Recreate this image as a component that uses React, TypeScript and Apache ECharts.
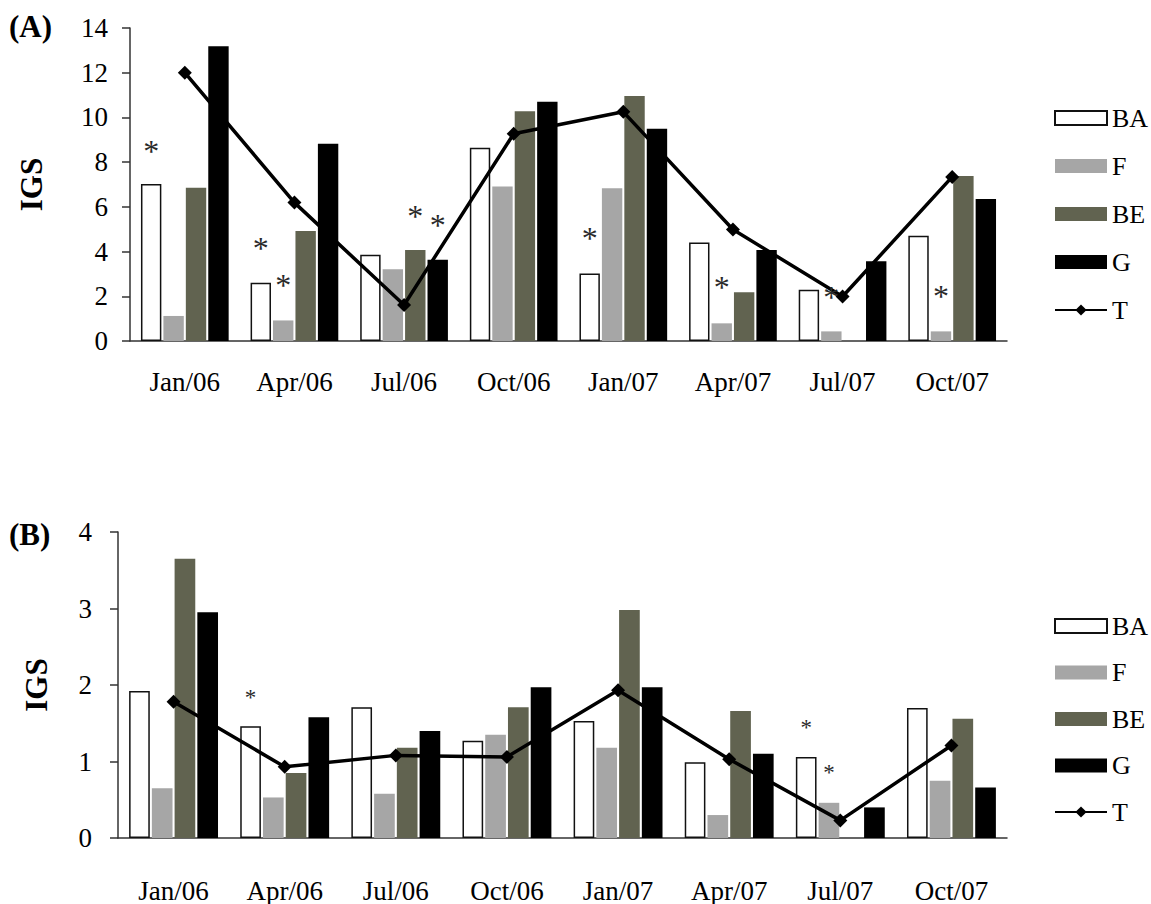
import React, { useEffect, useRef } from "react";
import * as echarts from "echarts";

const categories = ["Jan/06", "Apr/06", "Jul/06", "Oct/06", "Jan/07", "Apr/07", "Jul/07", "Oct/07"];

// Panel A
const baA = [7.02, 2.6, 3.86, 8.64, 3.02, 4.41, 2.29, 4.71];
const fA = [1.12, 0.92, 3.21, 6.91, 6.83, 0.79, 0.43, 0.43];
const beA = [6.85, 4.92, 4.07, 10.28, 10.96, 2.18, null, 7.38];
const gA = [13.18, 8.82, 3.63, 10.7, 9.49, 4.07, 3.57, 6.35];
const tA = [12.0, 6.19, 1.61, 9.27, 10.25, 4.99, 1.99, 7.34];
// asterisks: [category index, bar index, value]
const starsA = [
  [0, 0, 8.5], [1, 0, 4.15], [1, 1, 2.5], [2, 2, 5.6], [2, 3, 5.2],
  [4, 0, 4.6], [5, 1, 2.4], [6, 1, 1.95], [7, 1, 2.0],
];

// Panel B
const baB = [1.92, 1.46, 1.71, 1.27, 1.53, 0.99, 1.06, 1.7];
const fB = [0.65, 0.53, 0.58, 1.35, 1.18, 0.3, 0.46, 0.75];
const beB = [3.65, 0.85, 1.18, 1.71, 2.98, 1.66, null, 1.56];
const gB = [2.95, 1.58, 1.4, 1.97, 1.97, 1.1, 0.4, 0.66];
const tB = [1.78, 0.93, 1.08, 1.06, 1.93, 1.03, 0.23, 1.21];
const starsB = [[1, 0, 1.84], [6, 0, 1.44], [6, 1, 0.86]];

const yTicksA = { min: 0, max: 14, interval: 2 };
const yTicksB = { min: 0, max: 4, interval: 1 };

const FONT = "'Liberation Serif', 'Times New Roman', serif";
const W = 1151;
const H = 904;

const gridA = { left: 130, right: 144, top: 28, bottom: 563 };
const gridB = { left: 118, right: 144, top: 532, bottom: 56 };

const CAT_GAP = 0.2;
const BAR_GAP = 0.1;
const STAR_COLOR = "#2a2a2a";

function slotOffset(gridW: number, barIdx: number) {
  const band = gridW / categories.length;
  const bw = (band * (1 - CAT_GAP)) / (4 + 3 * BAR_GAP);
  return (barIdx - 1.5) * bw * (1 + BAR_GAP);
}

const colors = {
  BA: "#ffffff",
  F: "#a6a6a6",
  BE: "#616350",
  G: "#000000",
};

function panelSeries(idx: number, data: any[], stars: number[][], gridW: number, starSize: number) {
  const common = { xAxisIndex: idx, yAxisIndex: idx };
  const bars = [
    { name: "BA", data: data[0], itemStyle: { color: colors.BA, borderColor: "#111", borderWidth: 1.5 } },
    { name: "F", data: data[1], itemStyle: { color: colors.F } },
    { name: "BE", data: data[2], itemStyle: { color: colors.BE } },
    { name: "G", data: data[3], itemStyle: { color: colors.G } },
  ].map((s) => ({
    ...s,
    ...common,
    type: "bar",
    barCategoryGap: CAT_GAP * 100 + "%",
    barGap: BAR_GAP * 100 + "%",
  }));
  const line = {
    ...common,
    name: "T",
    type: "line",
    data: data[4],
    symbol: "diamond",
    symbolSize: 14,
    itemStyle: { color: "#000" },
    lineStyle: { color: "#000", width: 3.5 },
    z: 5,
  };
  const starSeries = stars.map((s, i) => ({
    ...common,
    type: "scatter",
    name: "star" + idx + "_" + i,
    data: [[s[0], s[2]]],
    symbolSize: 0,
    color: STAR_COLOR,
    itemStyle: { color: STAR_COLOR, opacity: 1 },
    silent: true,
    z: 6,
    label: {
      show: true,
      formatter: "*",
      position: "inside",
      offset: [slotOffset(gridW, s[1]), 0],
      color: STAR_COLOR,
      textBorderWidth: 0,
      fontSize: starSize,
      fontFamily: FONT,
    },
  }));
  return [...bars, line, ...starSeries];
}

function legendFor(top: number, gap: number) {
  return {
    orient: "vertical",
    left: 1049,
    top,
    itemWidth: 52,
    itemHeight: 14,
    itemGap: gap,
    textStyle: { fontFamily: FONT, fontSize: 26, color: "#000" },
    data: [
      { name: "BA", icon: "rect" },
      { name: "F", icon: "rect" },
      { name: "BE", icon: "rect" },
      { name: "G", icon: "rect" },
      { name: "T" },
    ],
  };
}

function xAxisFor(idx: number, margin: number) {
  return {
    type: "category",
    gridIndex: idx,
    data: categories,
    axisTick: { show: false },
    axisLine: { lineStyle: { color: "#333", width: 1.5 } },
    axisLabel: { color: "#000", fontFamily: FONT, fontSize: 27, margin, interval: 0 },
  };
}

function yAxisFor(idx: number, ticks: any, margin: number, nameGap: number) {
  return {
    type: "value",
    gridIndex: idx,
    ...ticks,
    name: "IGS",
    nameLocation: "middle",
    nameRotate: 90,
    nameGap,
    nameTextStyle: { fontFamily: FONT, fontSize: 31, fontWeight: "bold", color: "#000" },
    axisLine: { show: true, lineStyle: { color: "#333", width: 1.5 } },
    axisTick: { show: true, inside: false, length: 8, lineStyle: { color: "#333", width: 1.5 } },
    splitLine: { show: false },
    axisLabel: { color: "#000", fontFamily: FONT, fontSize: 27, margin },
  };
}

export default function App() {
  const ref = useRef<HTMLDivElement>(null);
  useEffect(() => {
    if (!ref.current) return;
    const chart = echarts.init(ref.current, undefined, { renderer: "svg" });
    const gwA = W - gridA.left - gridA.right;
    const gwB = W - gridB.left - gridB.right;
    chart.setOption({
      animation: false,
      backgroundColor: "#fff",
      grid: [
        { ...gridA, containLabel: false },
        { ...gridB, containLabel: false },
      ],
      xAxis: [xAxisFor(0, 27), xAxisFor(1, 39)],
      yAxis: [yAxisFor(0, yTicksA, 22, 83), yAxisFor(1, yTicksB, 26, 66)],
      legend: [legendFor(100, 22), legendFor(608, 20.5)],
      graphic: [
        { type: "text", left: 9, top: 11, style: { text: "(A)", font: `bold 31px ${FONT}`, fill: "#000" } },
        { type: "text", left: 9, top: 519, style: { text: "(B)", font: `bold 31px ${FONT}`, fill: "#000" } },
      ],
      series: [
        ...panelSeries(0, [baA, fA, beA, gA, tA], starsA, gwA, 32),
        ...panelSeries(1, [baB, fB, beB, gB, tB], starsB, gwB, 23),
      ],
    });
    return () => chart.dispose();
  }, []);
  return (
    <div
      ref={ref}
      style={{ position: "fixed", left: 0, top: 0, width: W, height: H, background: "#fff" }}
    />
  );
}
